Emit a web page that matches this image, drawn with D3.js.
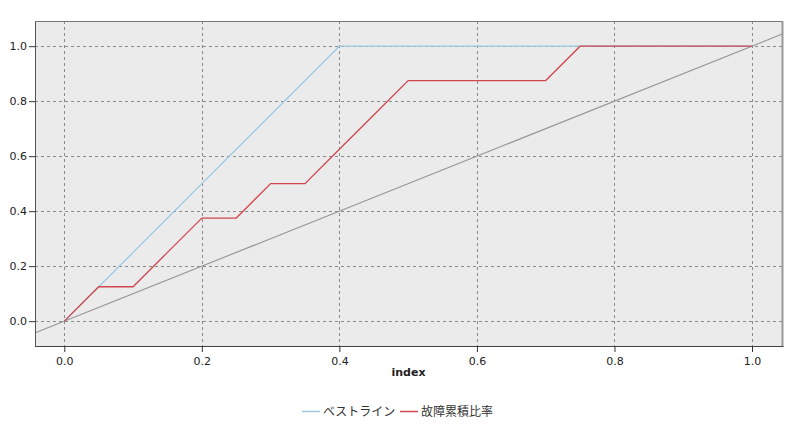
<!DOCTYPE html>
<html>
<head>
<meta charset="utf-8">
<script src="https://cdn.jsdelivr.net/npm/d3@7"></script>
<style>
  body { margin: 0; background: #fff; }
  text { font-family: "DejaVu Sans", sans-serif; }
</style>
</head>
<body>
<svg id="chart"></svg>
<script>
// series: ベストライン and 故障累積比率, x = index
const bestX = [0, 0.05, 0.1, 0.15, 0.2, 0.25, 0.3, 0.35, 0.4, 0.45, 0.5, 0.55, 0.6, 0.65, 0.7, 0.75, 0.8, 0.85, 0.9, 0.95, 1.0];
const bestY = [0, 0.125, 0.25, 0.375, 0.5, 0.625, 0.75, 0.875, 1, 1, 1, 1, 1, 1, 1, 1, 1, 1, 1, 1, 1];
const failX = [0, 0.05, 0.1, 0.15, 0.2, 0.25, 0.3, 0.35, 0.4, 0.45, 0.5, 0.55, 0.6, 0.65, 0.7, 0.75, 0.8, 0.85, 0.9, 0.95, 1.0];
const failY = [0, 0.125, 0.125, 0.25, 0.375, 0.375, 0.5, 0.5, 0.625, 0.75, 0.875, 0.875, 0.875, 0.875, 0.875, 1, 1, 1, 1, 1, 1];
const seriesNames = ["ベストライン", "故障累積比率"];
const xTicks = [0, 0.2, 0.4, 0.6, 0.8, 1.0];
const yTicks = [0, 0.2, 0.4, 0.6, 0.8, 1.0];

const width = 800, height = 431;
const plot = { left: 35, right: 782, top: 21, bottom: 346 };

const svg = d3.select("#chart").attr("width", width).attr("height", height);

const x = d3.scaleLinear().domain([-0.0426, 1.0436]).range([plot.left, plot.right]);
const y = d3.scaleLinear().domain([-0.0904, 1.0916]).range([plot.bottom, plot.top]);

// background
svg.append("rect")
    .attr("x", plot.left).attr("y", plot.top)
    .attr("width", plot.right - plot.left).attr("height", plot.bottom - plot.top)
    .attr("fill", "#ebebeb");

svg.append("clipPath").attr("id", "clip")
  .append("rect")
    .attr("x", plot.left).attr("y", plot.top)
    .attr("width", plot.right - plot.left).attr("height", plot.bottom - plot.top);

// grid
const grid = svg.append("g").attr("stroke", "#8a8a8a").attr("stroke-dasharray", "3,3").attr("stroke-width", 1);
grid.selectAll(".gx").data(xTicks).enter().append("line")
    .attr("x1", d => Math.round(x(d)) + 0.5).attr("x2", d => Math.round(x(d)) + 0.5)
    .attr("y1", plot.top).attr("y2", plot.bottom);
grid.selectAll(".gy").data(yTicks).enter().append("line")
    .attr("y1", d => Math.round(y(d)) + 0.5).attr("y2", d => Math.round(y(d)) + 0.5)
    .attr("x1", plot.left).attr("x2", plot.right);

// lines
const g = svg.append("g").attr("clip-path", "url(#clip)");
g.append("line")
    .attr("x1", x(-0.1)).attr("y1", y(-0.1))
    .attr("x2", x(1.1)).attr("y2", y(1.1))
    .attr("stroke", "#9a9a9a").attr("stroke-width", 1.2);

const line = d3.line().x(d => x(d[0])).y(d => y(d[1]));
g.append("path")
    .datum(bestX.map((v, i) => [v, bestY[i]]))
    .attr("d", line).attr("fill", "none")
    .attr("stroke", "#9ecae1").attr("stroke-width", 1.3);
g.append("path")
    .datum(failX.map((v, i) => [v, failY[i]]))
    .attr("d", line).attr("fill", "none")
    .attr("stroke", "#d0474f").attr("stroke-width", 1.3);

// frame
svg.append("line").attr("x1", plot.left + 0.5).attr("x2", plot.left + 0.5)
    .attr("y1", plot.top).attr("y2", plot.bottom).attr("stroke", "#555");
svg.append("line").attr("x1", plot.left).attr("x2", plot.right)
    .attr("y1", plot.top + 0.5).attr("y2", plot.top + 0.5).attr("stroke", "#777");
svg.append("line").attr("x1", plot.right + 0.5).attr("x2", plot.right + 0.5)
    .attr("y1", plot.top).attr("y2", plot.bottom + 1).attr("stroke", "#999").attr("stroke-width", 2);
svg.append("line").attr("x1", plot.left).attr("x2", plot.right + 1.5)
    .attr("y1", plot.bottom + 0.5).attr("y2", plot.bottom + 0.5).attr("stroke", "#444").attr("stroke-width", 1.2);

// axes
const xAxis = svg.append("g")
    .attr("transform", `translate(0,${plot.bottom})`)
    .call(d3.axisBottom(x).tickValues(xTicks).tickFormat(d3.format(".1f")).tickSize(6).tickSizeOuter(0));
const yAxis = svg.append("g")
    .attr("transform", `translate(${plot.left},0)`)
    .call(d3.axisLeft(y).tickValues(yTicks).tickFormat(d3.format(".1f")).tickSize(6).tickSizeOuter(0));
[xAxis, yAxis].forEach(a => {
    a.select(".domain").remove();
    a.selectAll(".tick line").attr("stroke", "#333");
    a.selectAll(".tick text").attr("fill", "#222").style("font-size", "11px")
        .style("font-family", "'DejaVu Sans', sans-serif");
});
xAxis.selectAll(".tick text").attr("dy", "0.95em");
yAxis.selectAll(".tick text").attr("x", -8);

svg.append("text")
    .attr("x", (plot.left + plot.right) / 2).attr("y", 376)
    .attr("text-anchor", "middle")
    .style("font-size", "11px").style("font-weight", "bold").attr("fill", "#222")
    .text("index");

// legend
const legendColors = ["#9ecae1", "#d0474f"];
const legendX = [302, 400];
const leg = svg.append("g");
seriesNames.forEach((name, i) => {
    leg.append("line")
        .attr("x1", legendX[i]).attr("x2", legendX[i] + 18)
        .attr("y1", 411.5).attr("y2", 411.5)
        .attr("stroke", legendColors[i]).attr("stroke-width", 1.5);
    leg.append("text")
        .attr("x", legendX[i] + 21).attr("y", 415.5)
        .style("font-family", "'Noto Sans CJK JP', sans-serif")
        .style("font-size", "12px").attr("fill", "#333")
        .text(name);
});
</script>
</body>
</html>
